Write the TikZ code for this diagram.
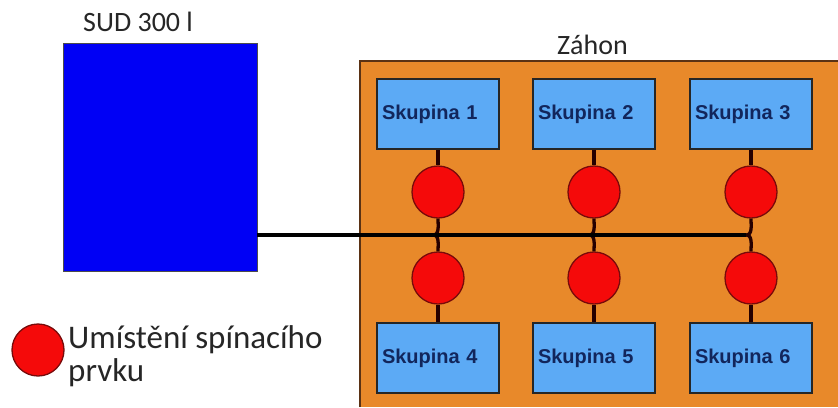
\documentclass[tikz,border=0pt]{standalone}
\usepackage{fontspec}
\setmainfont{Carlito}
\newfontfamily\boxfont{Liberation Sans}
\usetikzlibrary{positioning}

\definecolor{sudblue}{RGB}{0,0,245}
\definecolor{bedorange}{RGB}{232,137,42}
\definecolor{bededge}{RGB}{90,50,20}
\definecolor{groupblue}{RGB}{92,170,245}
\definecolor{groupnavy}{RGB}{18,38,92}
\definecolor{switchred}{RGB}{245,10,10}
\definecolor{switchedge}{RGB}{120,10,10}

\tikzset{
  tank/.style={draw=black!70, line width=0.8pt, fill=sudblue, minimum width=194pt, minimum height=228pt, inner sep=0pt},
  group/.style={draw=black!85, line width=1.6pt, fill=groupblue, minimum width=122pt, minimum height=70pt,
    text width=112pt, inner xsep=5pt, align=left, text=groupnavy, font=\boxfont\bfseries\fontsize{20}{24}\selectfont},
  switch/.style={circle, draw=switchedge, line width=1.3pt, fill=switchred, minimum size=52pt, inner sep=0pt},
  pipe/.style={line width=3.3pt, black!85!red},
  mainpipe/.style={line width=4.5pt, black},
  caption/.style={font=\fontsize{28}{32}\selectfont, text=black!85, inner sep=0pt}
}

\begin{document}
\begin{tikzpicture}[x=1pt, y=-1pt]
  %%%%% START %%%%%
  \useasboundingbox (0,0) rectangle (838,407);

  % zahon
  \fill[bedorange] (360,61) rectangle (838,407);
  \draw[bededge, line width=1.2pt] (360,407) -- (360,61) -- (838,61);
  \node[caption, anchor=base west] (zahonlabel) at (557,54) {Záhon};

  % sud
  \node[tank] (sud) at (160,157) {};
  \node[caption, anchor=base west] (sudlabel) at (83,31) {SUD 300 l};

  % skupiny
  \node[group] (g1) at (438,114) {Skupina 1};
  \node[group] (g2) at (594,114) {Skupina 2};
  \node[group] (g3) at (751,114) {Skupina 3};
  \node[group] (g4) at (438,358) {Skupina 4};
  \node[group] (g5) at (594,358) {Skupina 5};
  \node[group] (g6) at (751,358) {Skupina 6};

  % spinaci prvky
  \node[switch] (s1) at (438,192) {};
  \node[switch] (s2) at (594,192) {};
  \node[switch] (s3) at (751,192) {};
  \node[switch] (s4) at (438,278) {};
  \node[switch] (s5) at (594,278) {};
  \node[switch] (s6) at (751,278) {};

  \coordinate (j1) at (433,235);
  \coordinate (j2) at (589,235);
  \coordinate (j3) at (746,235);

  \draw[pipe] (g1.south) -- (s1.north);
  \draw[pipe] (g2.south) -- (s2.north);
  \draw[pipe] (g3.south) -- (s3.north);
  \draw[pipe] (s4.south) -- (g4.north);
  \draw[pipe] (s5.south) -- (g5.north);
  \draw[pipe] (s6.south) -- (g6.north);

  \draw[pipe] (s1.south) to[out=-90, in=0] (j1) to[out=0, in=90] (s4.north);
  \draw[pipe] (s2.south) to[out=-90, in=0] (j2) to[out=0, in=90] (s5.north);
  \draw[pipe] (s3.south) to[out=-90, in=0] (j3) to[out=0, in=90] (s6.north);

  \draw[mainpipe] (sud.east |- j3) -- (j3);

  % legenda
  \node[switch] (legend) at (38,350) {};
  \node[caption, font=\fontsize{33}{33}\selectfont, anchor=base west, align=left] (legendlabel) at (68,381) {Umístění spínacího\\prvku};
  %%%%% END %%%%%
\end{tikzpicture}
\end{document}
